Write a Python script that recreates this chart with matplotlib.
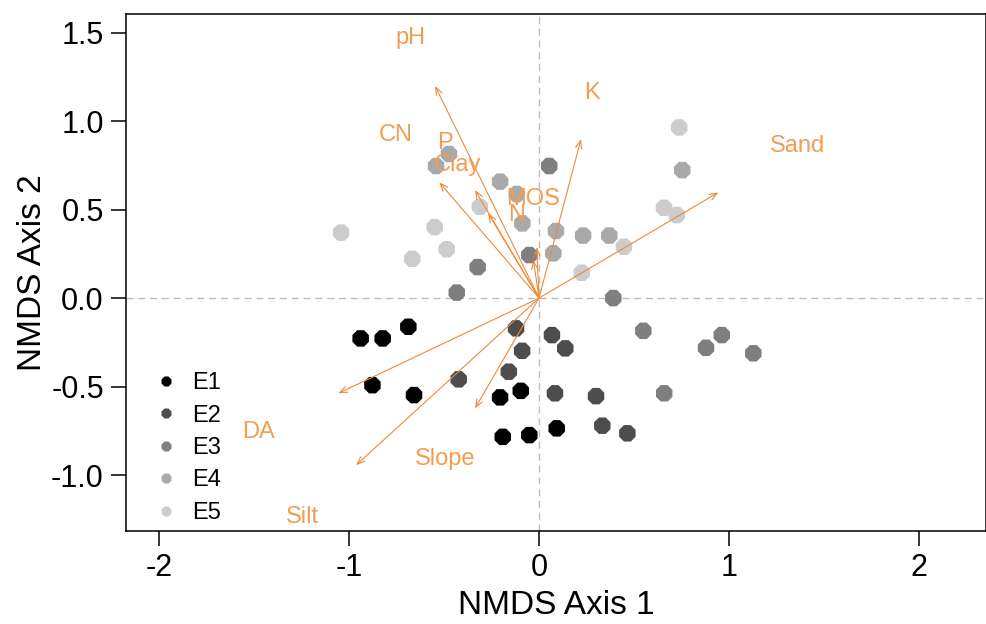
import matplotlib
matplotlib.use("Agg")
import matplotlib.pyplot as plt
from matplotlib.lines import Line2D

plt.rcParams['font.family'] = ['Liberation Sans', 'DejaVu Sans']

groups = ["E1", "E2", "E3", "E4", "E5"]
group_colors = ["#000000", "#4D4D4D", "#7F7F7F", "#A9A9A9", "#CCCCCC"]

E1_x = [-0.939, -0.823, -0.688, -0.877, -0.658, -0.205, -0.096, -0.191, -0.051, 0.093]
E1_y = [-0.228, -0.228, -0.162, -0.492, -0.548, -0.561, -0.524, -0.784, -0.774, -0.736]
E2_x = [-0.121, 0.068, 0.138, -0.089, -0.159, -0.423, 0.084, 0.300, 0.333, 0.465]
E2_y = [-0.171, -0.209, -0.284, -0.298, -0.416, -0.459, -0.538, -0.554, -0.721, -0.764]
E3_x = [0.549, 0.962, 0.879, 1.128, 0.659, 0.391, -0.433, -0.323, -0.051, 0.054]
E3_y = [-0.185, -0.209, -0.281, -0.312, -0.538, 0.000, 0.031, 0.175, 0.243, 0.746]
E4_x = [-0.474, -0.542, -0.205, -0.117, -0.088, 0.089, 0.232, 0.370, 0.075, 0.754]
E4_y = [0.814, 0.746, 0.658, 0.588, 0.422, 0.379, 0.353, 0.353, 0.253, 0.723]
E5_x = [-0.311, -1.042, -0.549, -0.486, -0.667, 0.447, 0.225, 0.738, 0.658, 0.725]
E5_y = [0.516, 0.370, 0.401, 0.276, 0.222, 0.290, 0.143, 0.964, 0.510, 0.469]

group_x = [E1_x, E2_x, E3_x, E4_x, E5_x]
group_y = [E1_y, E2_y, E3_y, E4_y, E5_y]

# environmental vectors
vec_names = ["pH", "K", "Sand", "CN", "P", "Clay", "MOS", "N", "DA", "Silt", "Slope"]
vec_x = [-0.547, 0.221, 0.944, -0.525, -0.337, -0.268, -0.012, -0.030, -1.056, -0.963, -0.337]
vec_y = [1.198, 0.898, 0.597, 0.654, 0.610, 0.480, 0.288, 0.215, -0.538, -0.944, -0.623]
lab_x = [-0.679, 0.279, 1.363, -0.753, -0.495, -0.432, -0.032, -0.116, -1.479, -1.247, -0.495]
lab_y = [1.469, 1.158, 0.859, 0.921, 0.876, 0.751, 0.559, 0.469, -0.757, -1.237, -0.910]

arrow_color = "#EE8A3A"
text_color = "#F29D52"

fig = plt.figure(figsize=(9.87, 6.24), dpi=100)
ax = fig.add_axes([0.1277, 0.149, 0.8713, 0.8286])

ax.axhline(0, color="#BDBDBD", lw=1.0, dashes=(5, 3.5), zorder=1)
ax.axvline(0, color="#BDBDBD", lw=1.0, dashes=(5, 3.5), zorder=1)

for gx, gy, c in zip(group_x, group_y, group_colors):
    ax.scatter(gx, gy, s=165, marker='8', color=c, edgecolors='none', zorder=2)

for name, vx, vy, lx, ly in zip(vec_names, vec_x, vec_y, lab_x, lab_y):
    ax.annotate("", xy=(vx, vy), xytext=(0, 0),
                arrowprops=dict(arrowstyle='->,head_length=0.55,head_width=0.22',
                                color=arrow_color, lw=0.8, shrinkA=0, shrinkB=0),
                zorder=3)
    ax.text(lx, ly, name, color=text_color, fontsize=17, ha='center', va='center', zorder=4)

ax.set_xlim(-2.174, 2.353)
ax.set_ylim(-1.316, 1.605)
ax.set_xticks([-2, -1, 0, 1, 2])
ax.set_xticklabels(["-2", "-1", "0", "1", "2"])
ax.set_yticks([-1.0, -0.5, 0.0, 0.5, 1.0, 1.5])
ax.set_yticklabels(["-1.0", "-0.5", "0.0", "0.5", "1.0", "1.5"])
ax.tick_params(axis='both', labelsize=22, length=11, width=1.1, direction='out', pad=5)
for sp in ax.spines.values():
    sp.set_linewidth(1.1)

ax.set_xlabel("NMDS Axis 1", fontsize=24, labelpad=5)
ax.set_ylabel("NMDS Axis 2", fontsize=24, labelpad=2)

handles = [Line2D([0], [0], marker='8', color='none', markerfacecolor=c,
                  markeredgecolor='none', markersize=8) for c in group_colors]
ax.legend(handles, groups, loc='upper left', bbox_to_anchor=(0.0326, 0.307),
          frameon=False, fontsize=17, handlelength=1.0, handletextpad=0.6,
          labelspacing=0.44, borderpad=0, borderaxespad=0)

fig.savefig("out.png", dpi=100)
